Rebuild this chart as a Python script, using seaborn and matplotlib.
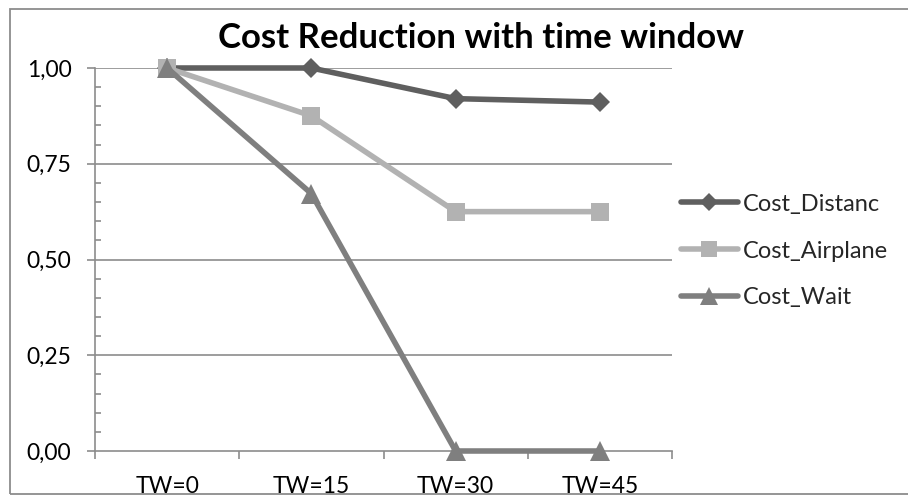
import matplotlib
matplotlib.use("Agg")
import matplotlib.pyplot as plt
from matplotlib.patches import Rectangle
from matplotlib.ticker import MultipleLocator, FixedLocator, NullFormatter, FixedFormatter
import seaborn as sns
import pandas as pd

categories = ["TW=0", "TW=15", "TW=30", "TW=45"]
cost_distanc = [1.00, 1.00, 0.92, 0.911]
cost_airplane = [1.00, 0.875, 0.625, 0.625]
cost_wait = [1.00, 0.672, 0.00, 0.00]
series_names = ["Cost_Distanc", "Cost_Airplane", "Cost_Wait"]
y_ticks = [0.00, 0.25, 0.50, 0.75, 1.00]
y_tick_labels = ["0,00", "0,25", "0,50", "0,75", "1,00"]
title = "Cost Reduction with time window"

sns.set_style("white")
plt.rcParams["font.family"] = ["Lato", "DejaVu Sans"]

W, H = 908, 496
fig = plt.figure(figsize=(W / 100, H / 100), dpi=100)
# chart border
fig.patches.append(Rectangle((10 / W, 1 - 494 / H), 1.2, (494 - 9) / H,
                             transform=fig.transFigure, fill=False,
                             edgecolor="#8c8c8c", linewidth=1.3))

ax = fig.add_axes([95 / W, 1 - 451 / H, (672 - 95) / W, (451 - 68) / H])

styles = {
    "Cost_Distanc": dict(color="#5f5f5f", marker="D", ms=10),
    "Cost_Airplane": dict(color="#b2b2b2", marker="s", ms=13),
    "Cost_Wait": dict(color="#7f7f7f", marker="^", ms=15),
}
data = {"Cost_Distanc": cost_distanc, "Cost_Airplane": cost_airplane, "Cost_Wait": cost_wait}
for name in series_names:
    st = styles[name]
    df = pd.DataFrame({"x": list(range(len(categories))), "y": data[name]})
    sns.lineplot(data=df, x="x", y="y", ax=ax, color=st["color"], marker=st["marker"],
                 markersize=st["ms"], markeredgewidth=0, linewidth=4,
                 label=name, zorder=3, clip_on=False)

ax.set_xlim(-0.5, len(categories) - 0.5)
ax.set_ylim(0, 1)
ax.set_xlabel("")
ax.set_ylabel("")

grid_c = "#8c8c8c"
ax.yaxis.set_major_locator(FixedLocator(y_ticks))
ax.yaxis.set_major_formatter(FixedFormatter(y_tick_labels))
ax.yaxis.set_minor_locator(MultipleLocator(0.05))
ax.xaxis.set_major_locator(FixedLocator([i - 0.5 for i in range(len(categories) + 1)]))
ax.xaxis.set_major_formatter(NullFormatter())
ax.xaxis.set_minor_locator(FixedLocator(list(range(len(categories)))))
ax.xaxis.set_minor_formatter(FixedFormatter(categories))

ax.tick_params(axis="y", which="major", direction="out", length=6, width=1.2,
               color=grid_c, labelsize=16.5, pad=11, left=True, labelcolor="#000000")
ax.tick_params(axis="y", which="minor", direction="in", length=4, width=1.2,
               color=grid_c, left=True)
ax.tick_params(axis="x", which="major", direction="out", length=6, width=1.2,
               color=grid_c, bottom=True)
ax.tick_params(axis="x", which="minor", length=0, labelsize=16.5, pad=18,
               labelcolor="#000000")

ax.grid(False)
for v in y_ticks[1:]:
    ax.axhline(v, color=grid_c, linewidth=1.2, zorder=1)
for side in ["top", "right"]:
    ax.spines[side].set_visible(False)
for side in ["left", "bottom"]:
    ax.spines[side].set_color(grid_c)
    ax.spines[side].set_linewidth(1.2)

fig.text(481 / W, 1 - 38 / H, title, ha="center", va="center",
         fontsize=25, fontweight="bold", color="#000000")

ax.legend(loc="center left", bbox_to_anchor=(681 / W, 1 - 251 / H),
          bbox_transform=fig.transFigure, frameon=False, fontsize=17,
          handlelength=2.4, handletextpad=0.2, labelspacing=1.1,
          borderpad=0, borderaxespad=0, markerscale=0.9)

fig.savefig("out.png", dpi=100)
